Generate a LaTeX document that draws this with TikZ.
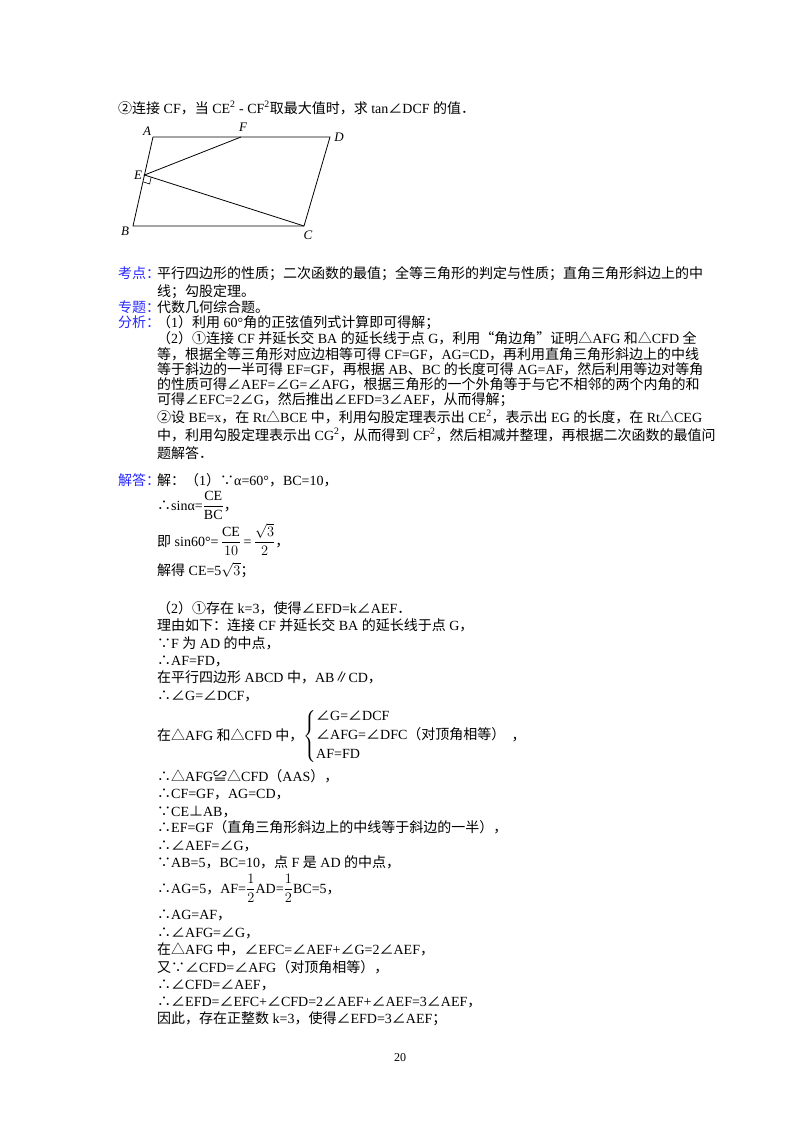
\documentclass[tikz,border=0pt]{standalone}
\usepackage{amsmath}
\usepackage{fontspec}
\usetikzlibrary{calc}
\setmainfont{Liberation Serif}
\newfontfamily\latinf{Liberation Serif}
\newfontfamily\cjk{Noto Sans CJK SC}
\XeTeXinterchartokenstate=1
\newXeTeXintercharclass\cjkclass
\newcount\cc
\def\setrange#1#2{\cc=#1 \loop \XeTeXcharclass\cc=\cjkclass \advance\cc 1 \ifnum\cc<#2 \repeat}
\setrange{"4E00}{"A000}
\setrange{"3000}{"3040}
\setrange{"FF00}{"FFF0}
\setrange{"2200}{"2300}
\setrange{"25A0}{"2600}
\setrange{"2460}{"2500}
\setrange{"201C}{"201E}
\XeTeXinterchartoks 0 \cjkclass = {\cjk}
\XeTeXinterchartoks 4095 \cjkclass = {\cjk}
\XeTeXinterchartoks \cjkclass 0 = {\latinf}
\XeTeXinterchartoks \cjkclass 4095 = {\latinf}
\definecolor{lab}{RGB}{40,40,255}
\begin{document}
\begin{tikzpicture}[x=1pt,y=-1pt,
  t/.style={anchor=base west,inner sep=0pt,font=\fontsize{14}{17}\selectfont},
  lb/.style={t,text=lab},
  pl/.style={inner sep=0pt,font=\fontsize{13}{15}\selectfont\itshape}]
\useasboundingbox (0,0) rectangle (800,1132);
% header
\node[t] (h) at (118,113) {②连接 CF，当 CE\textsuperscript{2} - CF\textsuperscript{2}取最大值时，求 tan∠DCF 的值．};
% diagram
\coordinate (A) at (153,137); \coordinate (D) at (330,137);
\coordinate (B) at (133,226); \coordinate (C) at (304,226);
\coordinate (E) at (144.5,175); \coordinate (F) at (241,137);
\draw[line width=0.8pt] (A)--(D)--(C)--(B)--cycle;
\draw[line width=0.8pt] (F)--(E)--(C);
\coordinate (P1) at ($(E)!7pt!(B)$);
\coordinate (P2) at ($(E)!7pt!(C)$);
\draw[line width=0.6pt] (P1) -- ($(P1)+(P2)-(E)$) -- (P2);
\node[pl] (la) at (147,131) {A};
\node[pl] (lf) at (243,127) {F};
\node[pl] (ld) at (339,137) {D};
\node[pl] (le) at (138,175) {E};
\node[pl] (lb2) at (125,231) {B};
\node[pl] (lc) at (308,235) {C};
% analysis
\node[lb] (k1) at (118,278) {考点：};
\node[t] (k1t) at (157,278) {平行四边形的性质；二次函数的最值；全等三角形的判定与性质；直角三角形斜边上的中};
\node[t] (k2) at (157,296) {线；勾股定理。};
\node[lb] (z1) at (118,312) {专题：};
\node[t] (z1t) at (157,312) {代数几何综合题。};
\node[lb] (f1) at (118,327) {分析：};
\node[t] (f1t) at (157,327) {（1）利用 60°角的正弦值列式计算即可得解；};
\node[t] (f2) at (157,343) {（2）①连接 CF 并延长交 BA 的延长线于点 G，利用“角边角”证明△AFG 和△CFD 全};
\node[t] (f3) at (157,359) {等，根据全等三角形对应边相等可得 CF=GF，AG=CD，再利用直角三角形斜边上的中线};
\node[t] (f4) at (157,374) {等于斜边的一半可得 EF=GF，再根据 AB、BC 的长度可得 AG=AF，然后利用等边对等角};
\node[t] (f5) at (157,389) {的性质可得∠AEF=∠G=∠AFG，根据三角形的一个外角等于与它不相邻的两个内角的和};
\node[t] (f6) at (157,404) {可得∠EFC=2∠G，然后推出∠EFD=3∠AEF，从而得解；};
\node[t] (f7) at (157,422) {②设 BE=x，在 Rt△BCE 中，利用勾股定理表示出 CE\textsuperscript{2}，表示出 EG 的长度，在 Rt△CEG};
\node[t] (f8) at (157,440) {中，利用勾股定理表示出 CG\textsuperscript{2}，从而得到 CF\textsuperscript{2}，然后相减并整理，再根据二次函数的最值问};
\node[t] (f9) at (157,458) {题解答．};
% answer
\node[lb] (j1) at (118,485) {解答：};
\node[t] (j1t) at (157,485) {解：（1）∵α=60°，BC=10，};
\node[t] (j2) at (157,510) {∴sinα=$\dfrac{\mathrm{CE}}{\mathrm{BC}}$，};
\node[t] (j3) at (157,546) {即 sin60°=$\,\dfrac{\mathrm{CE}}{10}\,$=$\,\dfrac{\sqrt{3}}{2}$，};
\node[t] (j4) at (157,575) {解得 CE=5$\sqrt{3}$；};
\node[t] (j5) at (157,613) {（2）①存在 k=3，使得∠EFD=k∠AEF．};
\node[t] (j6) at (157,630) {理由如下：连接 CF 并延长交 BA 的延长线于点 G，};
\node[t] (j7) at (157,648) {∵F 为 AD 的中点，};
\node[t] (j8) at (157,665) {∴AF=FD，};
\node[t] (j9) at (157,682) {在平行四边形 ABCD 中，AB∥CD，};
\node[t] (j10) at (157,700) {∴∠G=∠DCF，};
\node[t] (j11) at (157,740) {在△AFG 和△CFD 中，$\left\{\begin{array}{@{}l}\text{∠G=∠DCF}\\[2pt]\text{∠AFG=∠DFC（对顶角相等）}\\[2pt]\text{AF=FD}\end{array}\right.$，};
\node[t] (j12) at (157,781) {∴△AFG≌△CFD（AAS），};
\node[t] (j13) at (157,798) {∴CF=GF，AG=CD，};
\node[t] (j14) at (157,816) {∵CE⊥AB，};
\node[t] (j15) at (157,832) {∴EF=GF（直角三角形斜边上的中线等于斜边的一半），};
\node[t] (j16) at (157,850) {∴∠AEF=∠G，};
\node[t] (j17) at (157,867) {∵AB=5，BC=10，点 F 是 AD 的中点，};
\node[t] (j18) at (157,893) {∴AG=5，AF=$\dfrac{1}{2}$AD=$\dfrac{1}{2}$BC=5，};
\node[t] (j19) at (157,919) {∴AG=AF，};
\node[t] (j20) at (157,937) {∴∠AFG=∠G，};
\node[t] (j21) at (157,954) {在△AFG 中，∠EFC=∠AEF+∠G=2∠AEF，};
\node[t] (j22) at (157,972) {又∵∠CFD=∠AFG（对顶角相等），};
\node[t] (j23) at (157,989) {∴∠CFD=∠AEF，};
\node[t] (j24) at (157,1006) {∴∠EFD=∠EFC+∠CFD=2∠AEF+∠AEF=3∠AEF，};
\node[t] (j25) at (157,1023) {因此，存在正整数 k=3，使得∠EFD=3∠AEF；};
\node[inner sep=0pt,font=\fontsize{12}{14}\selectfont] (pg) at (400,1058) {20};
\end{tikzpicture}
\end{document}
